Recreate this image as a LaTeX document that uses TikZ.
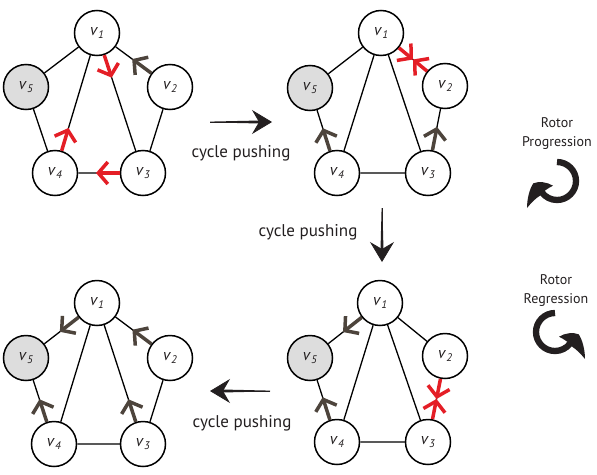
\documentclass[tikz,border=0pt]{standalone}
\usepackage{fontspec}
\setmainfont{PT Sans}
\usetikzlibrary{arrows.meta,calc}
\definecolor{rotred}{RGB}{228,30,38}
\definecolor{rotbrown}{RGB}{77,68,60}
\definecolor{sinkgray}{RGB}{221,221,221}
\definecolor{ink}{RGB}{35,31,32}
\newcommand\vl[1]{\fontsize{16}{16}\selectfont\textit{v}\kern0.2pt\raisebox{-0.35ex}{\fontsize{11}{11}\selectfont\textit{#1}}}
\tikzset{
  vert/.style={circle, draw=black, line width=1.5pt, fill=white, minimum size=45pt, inner sep=0pt, text=ink},
  edge/.style={line width=1.3pt, draw=black},
  rotor/.style={line width=3.5pt, -{Straight Barb[length=9.5pt,width=22pt]}},
  redrot/.style={rotor, draw=rotred},
  brownrot/.style={rotor, draw=rotbrown},
  lbl/.style={font=\fontsize{17}{17}\selectfont, text=ink},
  rlbl/.style={font=\fontsize{14}{19}\selectfont, text=ink, align=center},
  rotoricon/.pic={
    \draw[ink, line width=6.3pt] (90:19pt) arc[start angle=90, end angle=-143, radius=19pt];
    \fill[ink] (-23.7,-2.3) .. controls (-27.5,-8) and (-30,-18) .. (-30,-27)
      .. controls (-26,-22) and (-21,-17) .. (-17.5,-15)
      -- (-12,-9.5)
      .. controls (-9,-7.5) and (-6,-5.5) .. (-4,-4.7)
      .. controls (-10,-1) and (-18,0) .. cycle;
  }
}
\newcommand\mygraph[6]{%
  \node[vert] (#1v1) at (#2) {\vl{1}};
  \node[vert] (#1v2) at (#3) {\vl{2}};
  \node[vert] (#1v3) at (#4) {\vl{3}};
  \node[vert] (#1v4) at (#5) {\vl{4}};
  \node[vert, fill=sinkgray] (#1v5) at (#6) {\vl{5}};
  \draw[edge] (#1v1) -- (#1v2) (#1v2) -- (#1v3) (#1v3) -- (#1v4) (#1v4) -- (#1v5)
    (#1v5) -- (#1v1) (#1v1) -- (#1v3) (#1v1) -- (#1v4);
}
\newcommand\rot[3]{\draw[#1] (#2) -- ($(#2)!47pt!(#3)$);}
\newcommand\cyc[2]{%
  \draw[redrot] (#1) -- ($(#1)!0.5!(#2)$);
  \draw[redrot] (#2) -- ($(#1)!0.5!(#2)$);}
\newcommand\bigarrow[2]{%
  \coordinate (#1-e) at ($(#2)!12pt!(#1)$);
  \fill[ink] ($(#1)!0.4pt!90:(#2)$) -- ($(#1-e)!1.5pt!-90:(#1)$) -- ($(#1-e)!1.5pt!90:(#1)$) -- ($(#1)!0.4pt!-90:(#2)$) -- cycle;
  \draw[ink, line width=0.8pt, -{Stealth[length=20pt,width=24pt,inset=7pt]}] (#1) -- (#2);}
\begin{document}
\begin{tikzpicture}[x=1pt,y=1pt]
\useasboundingbox (0,0) rectangle (597,-474);
% top-left
\mygraph{a}{97,-33}{170,-87}{143,-173}{55,-173}{26,-87}
\rot{redrot}{av1}{av3}
\rot{brownrot}{av2}{av1}
\rot{redrot}{av4}{av1}
\rot{redrot}{av3}{av4}
% top-right
\mygraph{b}{381,-33}{445,-86}{428,-173}{337,-173}{310,-88}
\cyc{bv1}{bv2}
\rot{brownrot}{bv4}{bv5}
\rot{brownrot}{bv3}{bv2}
% bottom-right
\mygraph{c}{380,-303}{445,-356}{428,-442}{337,-442}{310,-358}
\rot{brownrot}{cv1}{cv5}
\rot{brownrot}{cv4}{cv5}
\cyc{cv2}{cv3}
% bottom-left
\mygraph{d}{97,-303}{170,-358}{143,-444}{54,-444}{26,-358}
\rot{brownrot}{dv1}{dv5}
\rot{brownrot}{dv2}{dv1}
\rot{brownrot}{dv3}{dv1}
\rot{brownrot}{dv4}{dv5}
% cycle pushing arrows
\coordinate (p1) at (210,-122); \coordinate (p2) at (272,-122);
\coordinate (q1) at (382,-208); \coordinate (q2) at (382,-262);
\coordinate (r1) at (270,-391); \coordinate (r2) at (210,-391);
\bigarrow{p1}{p2}
\bigarrow{q1}{q2}
\bigarrow{r1}{r2}
\node[lbl] (cp1) at (241,-153) {cycle pushing};
\node[lbl] (cp2) at (308,-232) {cycle pushing};
\node[lbl] (cp3) at (242,-423) {cycle pushing};
% rotor legend
\node[rlbl] (rp) at (557,-134) {Rotor\\Progression};
\pic (rpicon) at (557,-181) {rotoricon};
\node[rlbl] (rr) at (556,-291) {Rotor\\Regression};
\pic[xscale=-1] (rricon) at (555,-332) {rotoricon};
\end{tikzpicture}
\end{document}
